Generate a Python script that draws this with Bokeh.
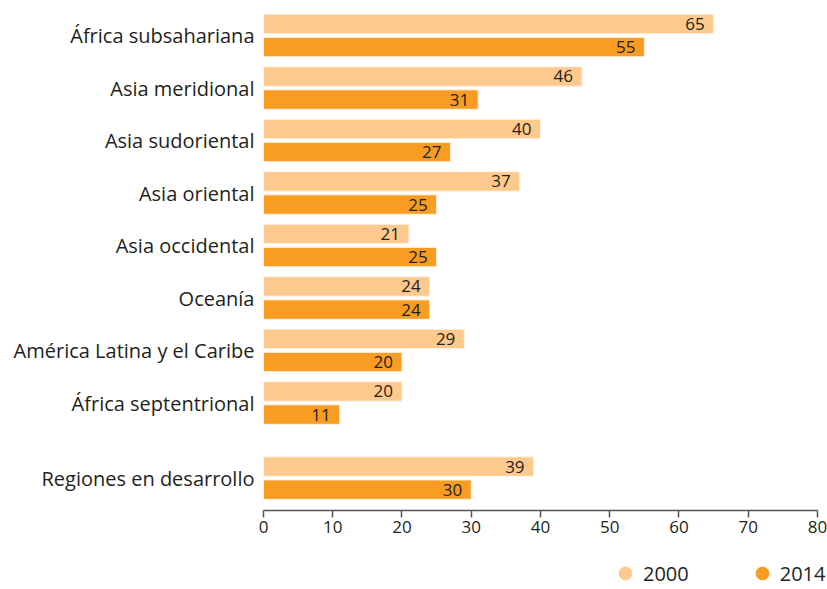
from bokeh.plotting import figure
from bokeh.models import ColumnDataSource, Range1d, FixedTicker, Legend, LegendItem, LabelSet
from bokeh.core.properties import value
from bokeh.embed import file_html
from bokeh.resources import INLINE

regions = ["África subsahariana", "Asia meridional", "Asia sudoriental", "Asia oriental",
           "Asia occidental", "Oceanía", "América Latina y el Caribe", "África septentrional",
           "Regiones en desarrollo"]
v2000 = [65, 46, 40, 37, 21, 24, 29, 20, 39]
v2014 = [55, 31, 27, 25, 25, 24, 20, 11, 30]
x_ticks = [0, 10, 20, 30, 40, 50, 60, 70, 80]

LIGHT = "#FEC98C"
DARK = "#F89C22"
TXT = "#231F20"
FONT = "Open Sans"

# category centre positions (gap before the aggregate row)
pos = [float(i) for i in range(8)] + [8.43]
off = 0.22
bh = 0.37
axis_pos = 9.048

src = ColumnDataSource(dict(
    y1=[p - off for p in pos], y2=[p + off for p in pos],
    v1=v2000, v2=v2014,
    t1=[str(v) for v in v2000], t2=[str(v) for v in v2014],
))

p = figure(width=827, height=589, output_backend="svg", toolbar_location=None,
           x_range=Range1d(-0.866, 81.444), y_range=Range1d(10.552, -0.667),
           min_border_left=257, min_border_right=0, min_border_top=0, min_border_bottom=0)
p.outline_line_color = None
p.grid.visible = False

p.hbar(y="y1", right="v1", left=0, height=bh, source=src, fill_color=LIGHT,
       line_color="#FFF3E6", line_width=1)
p.hbar(y="y2", right="v2", left=0, height=bh, source=src, fill_color=DARK,
       line_color="#FFF3E6", line_width=1)

for yf, vf, tf in (("y1", "v1", "t1"), ("y2", "v2", "t2")):
    p.add_layout(LabelSet(x=vf, y=yf, text=tf, source=src, x_offset=-9,
                          text_align="right", text_baseline="middle",
                          text_font=value(FONT), text_font_size="17px", text_color=TXT))

# x axis, fixed inside the frame so the legend can sit below it
xa = p.xaxis[0]
xa.fixed_location = axis_pos
xa.bounds = (0, 80)
xa.ticker = FixedTicker(ticks=x_ticks)
xa.axis_line_color = "#555555"
xa.axis_line_width = 1.5
xa.major_tick_line_color = "#555555"
xa.major_tick_line_width = 1.5
xa.major_tick_in = 0
xa.major_tick_out = 7
xa.minor_tick_line_color = None
xa.major_label_text_font = FONT
xa.major_label_text_font_size = "17px"
xa.major_label_text_color = TXT
xa.major_label_standoff = 3

# y axis as category labels
ya = p.yaxis[0]
ya.ticker = FixedTicker(ticks=pos)
ya.major_label_overrides = {pos[i]: regions[i] for i in range(len(regions))}
ya.axis_line_color = None
ya.major_tick_line_color = None
ya.major_tick_out = 0
ya.major_tick_in = 0
ya.minor_tick_line_color = None
ya.major_label_text_font = FONT
ya.major_label_text_font_size = "20px"
ya.major_label_text_color = TXT
ya.major_label_standoff = 3

# legend with circle glyphs (renderers hold no visible point)
nan = float("nan")
r1 = p.scatter(x=[nan], y=[nan], marker="circle", size=18, fill_color=LIGHT, line_color=LIGHT)
r2 = p.scatter(x=[nan], y=[nan], marker="circle", size=18, fill_color=DARK, line_color=DARK)
leg = Legend(items=[LegendItem(label="2000", renderers=[r1]),
                    LegendItem(label="2014", renderers=[r2])],
             orientation="horizontal", location=(350, 0),
             glyph_width=36, glyph_height=32, label_standoff=-2, spacing=55,
             padding=0, margin=0, border_line_color=None, background_fill_alpha=0,
             label_text_font=FONT, label_text_font_size="20px", label_text_color=TXT,
             label_height=20)
p.add_layout(leg, "center")

open("out.html", "w").write(file_html(p, INLINE))
